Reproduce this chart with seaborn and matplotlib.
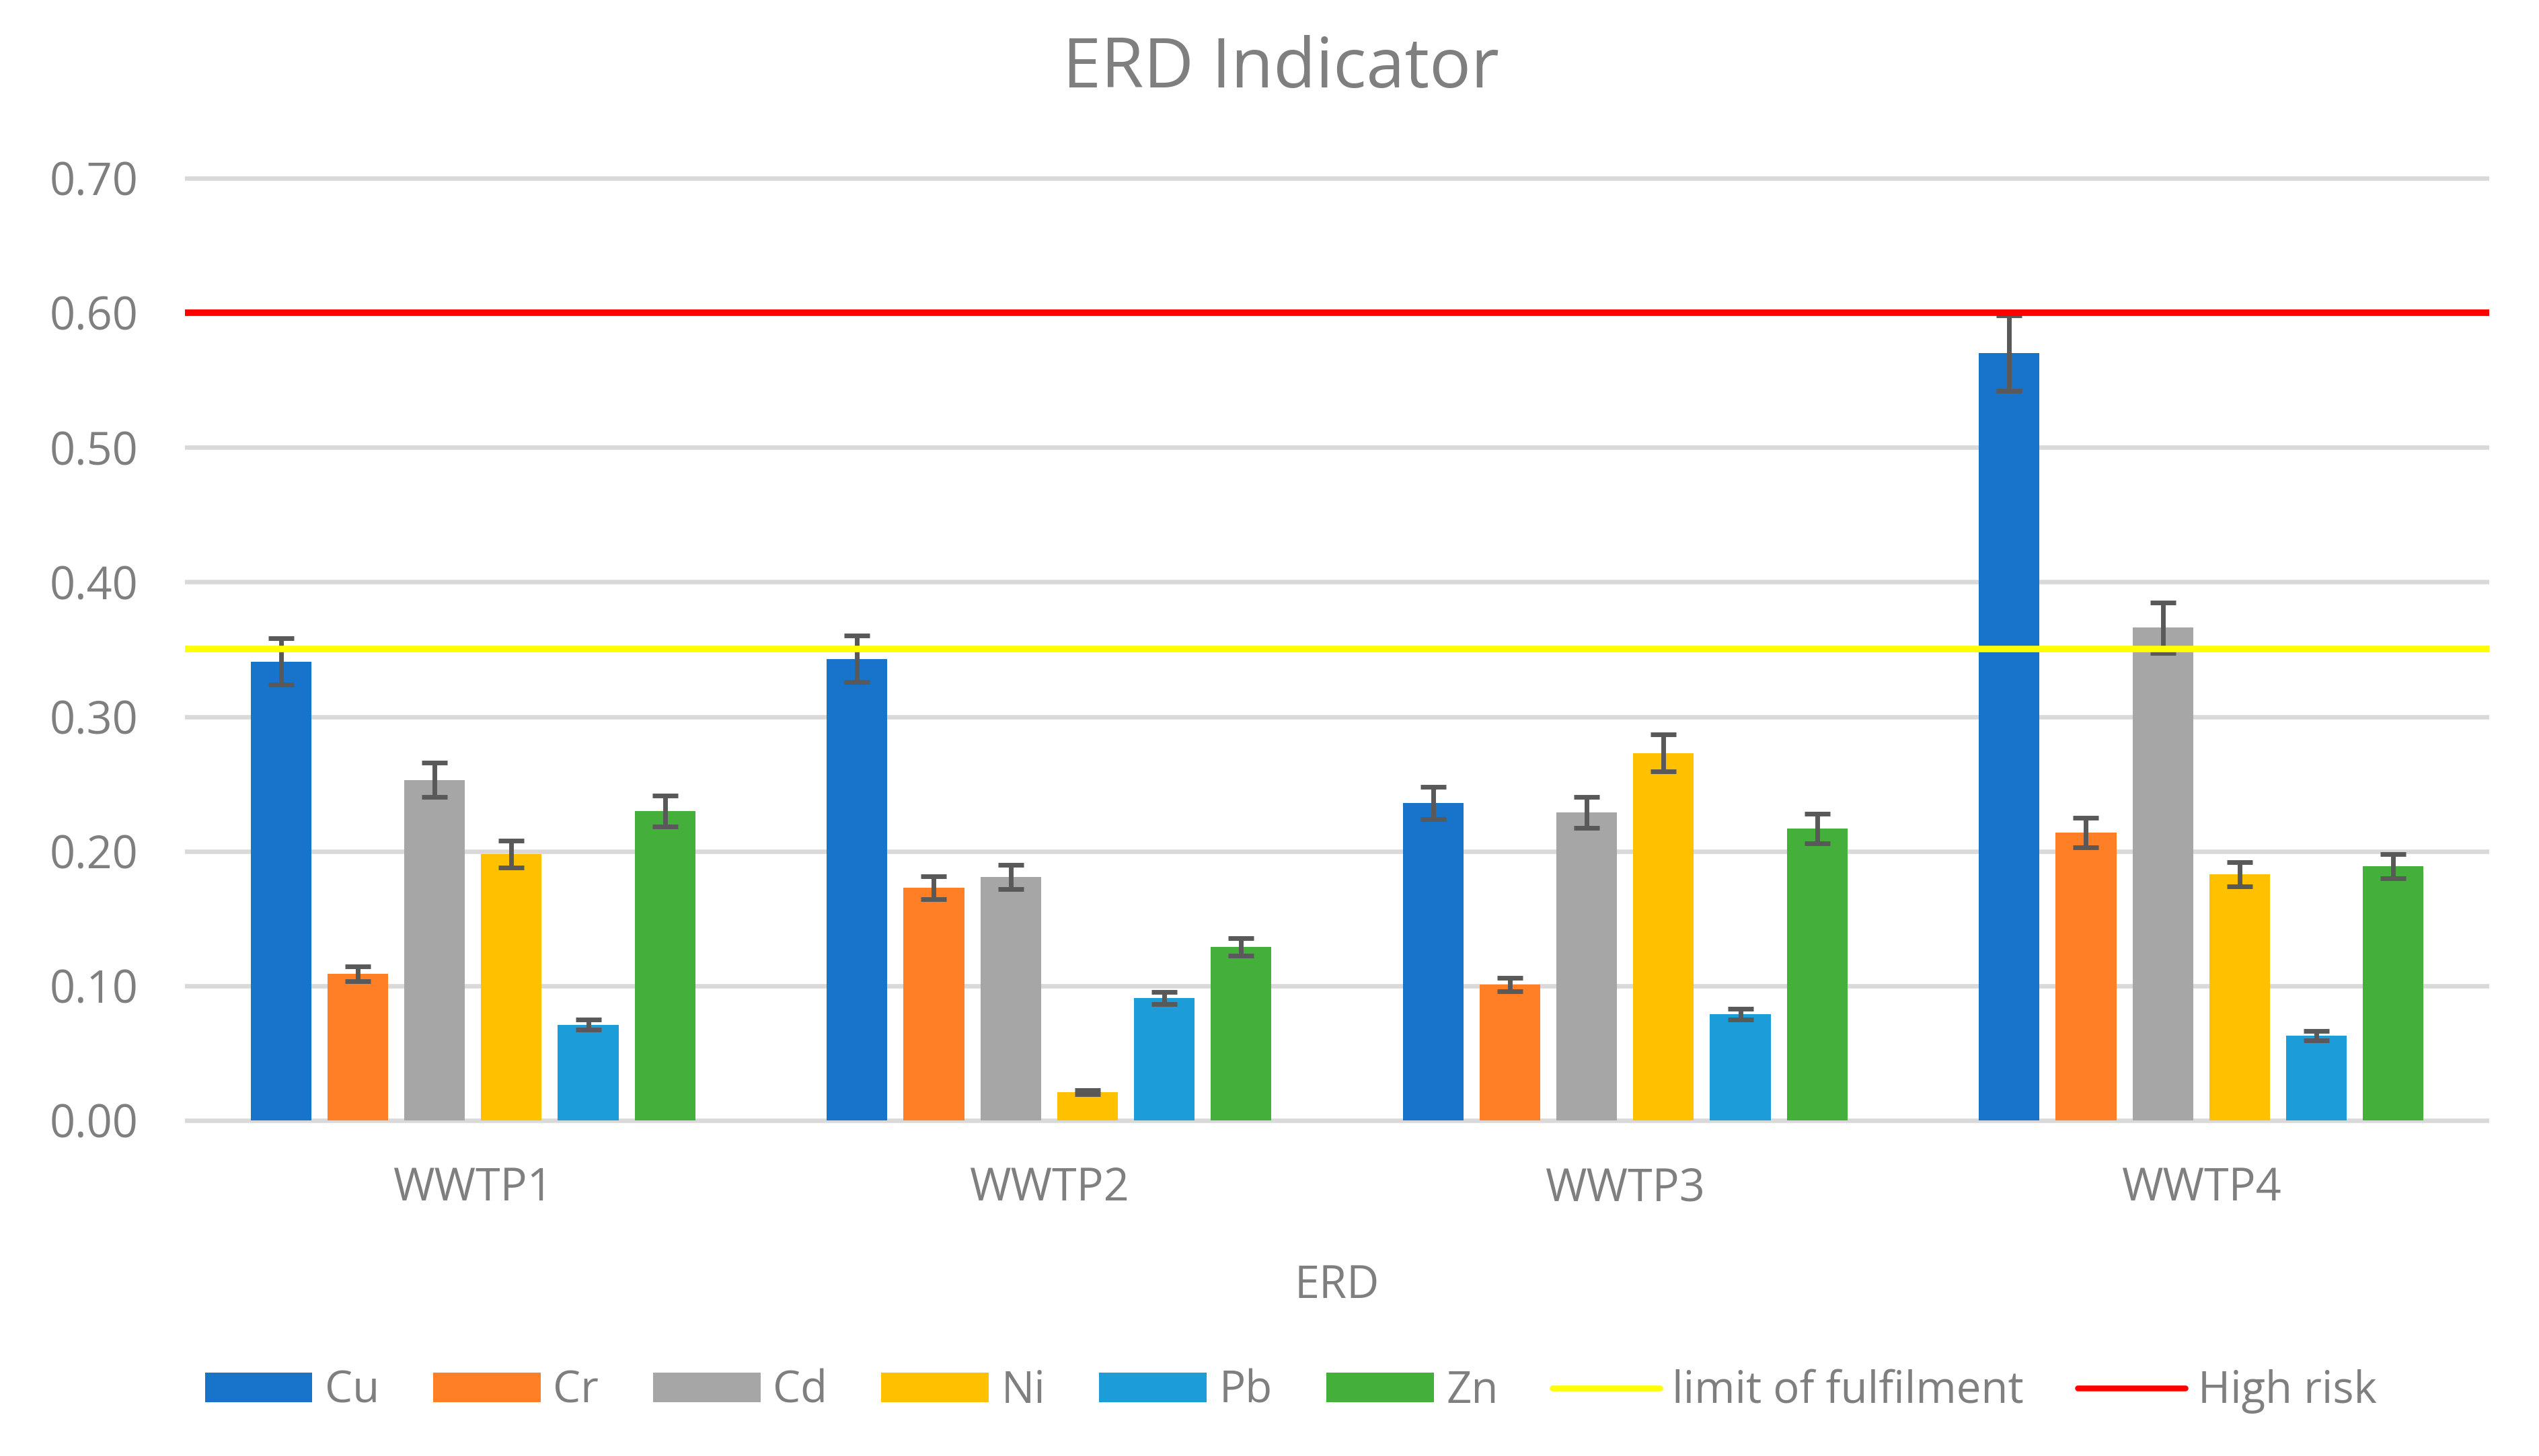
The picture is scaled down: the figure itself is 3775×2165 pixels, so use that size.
import matplotlib
matplotlib.use("Agg")
import matplotlib.pyplot as plt
from matplotlib.lines import Line2D
import seaborn as sns
import pandas as pd

# ---- data ----
categories = ["WWTP1", "WWTP2", "WWTP3", "WWTP4"]
metals = ["Cu", "Cr", "Cd", "Ni", "Pb", "Zn"]
Cu = [0.341, 0.343, 0.236, 0.570]
Cr = [0.109, 0.173, 0.101, 0.214]
Cd = [0.253, 0.181, 0.229, 0.366]
Ni = [0.198, 0.021, 0.273, 0.183]
Pb = [0.071, 0.091, 0.079, 0.063]
Zn = [0.230, 0.129, 0.217, 0.189]
Cu_err = [0.017, 0.017, 0.012, 0.028]
Cr_err = [0.0056, 0.0085, 0.005, 0.011]
Cd_err = [0.0126, 0.009, 0.0115, 0.0185]
Ni_err = [0.010, 0.0015, 0.0137, 0.009]
Pb_err = [0.0037, 0.0045, 0.004, 0.0035]
Zn_err = [0.0115, 0.0064, 0.011, 0.009]
limit_value = 0.35
high_risk_value = 0.60
yticks = [0.0, 0.1, 0.2, 0.3, 0.4, 0.5, 0.6, 0.7]

values = {"Cu": Cu, "Cr": Cr, "Cd": Cd, "Ni": Ni, "Pb": Pb, "Zn": Zn}
errors = {"Cu": Cu_err, "Cr": Cr_err, "Cd": Cd_err, "Ni": Ni_err, "Pb": Pb_err, "Zn": Zn_err}
colors = {"Cu": "#1874cb", "Cr": "#ff7f27", "Cd": "#a6a6a6",
          "Ni": "#ffc000", "Pb": "#1c9cd8", "Zn": "#44af3b"}

rows = []
for m in metals:
    for c, v in zip(categories, values[m]):
        rows.append({"WWTP": c, "Metal": m, "ERD": v})
df = pd.DataFrame(rows)

plt.rcParams["font.family"] = ["Open Sans", "DejaVu Sans"]
TXT = "#7f7f7f"

W, H = 3775, 2165
fig = plt.figure(figsize=(W / 100, H / 100), dpi=100)
ax_bottom, ax_top = 1670, 261
ax = fig.add_axes([275 / W, 1 - ax_bottom / H, 3426 / W, (ax_bottom - ax_top) / H])

sns.barplot(data=df, x="WWTP", y="ERD", hue="Metal", order=categories,
            hue_order=metals, palette=colors, width=0.8, gap=0.21,
            errorbar=None, saturation=1, ax=ax, zorder=2)

# error bars
for m, cont in zip(metals, ax.containers):
    xs = [p.get_x() + p.get_width() / 2 for p in cont]
    ys = [p.get_height() for p in cont]
    ax.errorbar(xs, ys, yerr=errors[m], fmt="none", ecolor="#595959",
                elinewidth=5, capsize=14, capthick=5, zorder=3)

ax.axhline(limit_value, color="#ffff00", lw=7, zorder=4, solid_capstyle="butt")
ax.axhline(high_risk_value, color="#ff0000", lw=7, zorder=4, solid_capstyle="butt")

ax.set_ylim(-0.002, 0.702)
ax.set_xlim(-0.5, 3.5)
ax.set_yticks(yticks)
ax.set_yticklabels([f"{t:.2f}" for t in yticks])
ax.yaxis.grid(True, color="#d9d9d9", lw=4.75)
ax.xaxis.grid(False)
ax.set_axisbelow(True)
for s in ax.spines.values():
    s.set_visible(False)
ax.tick_params(axis="both", length=0, labelsize=48, colors=TXT)
ax.tick_params(axis="y", pad=50)
ax.tick_params(axis="x", pad=46)
ax.set_ylabel("")
ax.set_xlabel("ERD", fontsize=48, color=TXT, va="baseline")
ax.xaxis.set_label_coords(0.5, (ax_bottom - 1930) / (ax_bottom - ax_top))

fig.text(1904 / W, 1 - 130 / H, "ERD Indicator", ha="center", va="baseline",
         fontsize=74, color=TXT)

# legend
handles, labels = ax.get_legend_handles_labels()
if ax.get_legend() is not None:
    ax.get_legend().remove()
bar_handles = handles[:len(metals)]
line_handles = [Line2D([], [], color="#ffff00", lw=6.2, solid_capstyle="round"),
                Line2D([], [], color="#ff0000", lw=6.2, solid_capstyle="round")]
fig.legend(bar_handles + line_handles,
           metals + ["limit of fulfilment", "High risk"],
           loc="center", bbox_to_anchor=(1919 / W, 1 - 2069 / H), ncol=8,
           frameon=False, fontsize=47, labelcolor=TXT, handlelength=2.45,
           handleheight=0.64, handletextpad=0.28, columnspacing=1.23,
           borderpad=0, borderaxespad=0)

fig.savefig("out.png", dpi=100, facecolor="white")
